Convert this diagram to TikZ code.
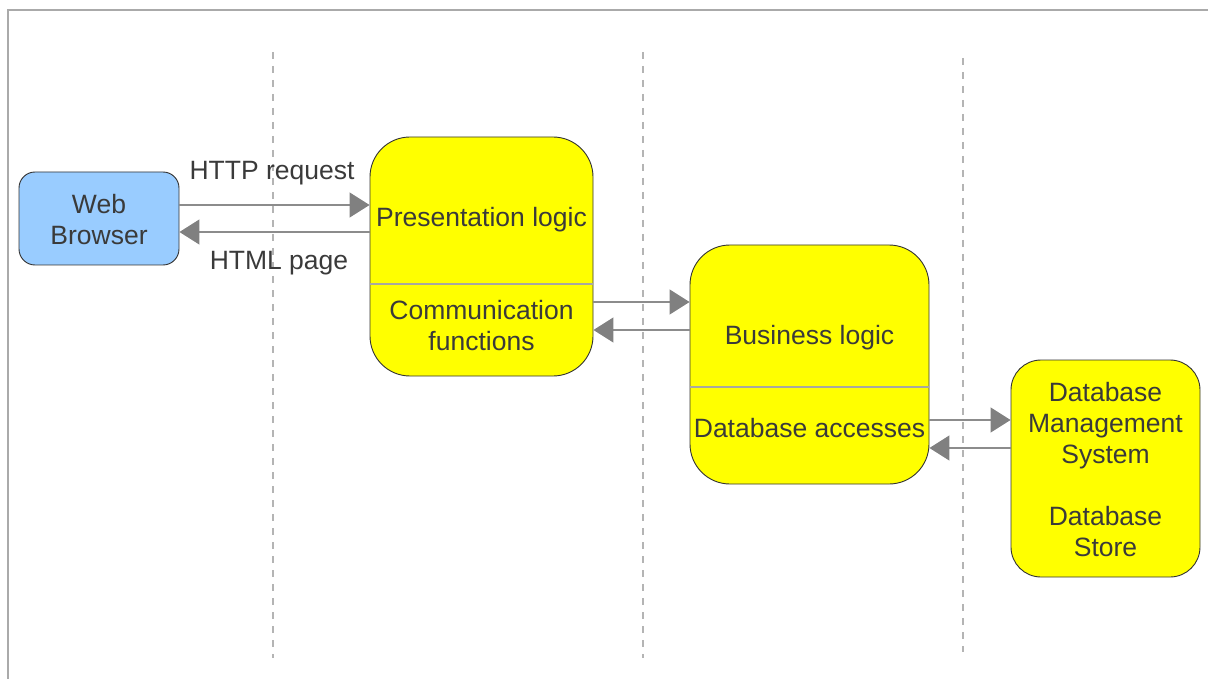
\documentclass[tikz,border=0pt]{standalone}
\usepackage{fontspec}
\setmainfont{Liberation Sans}
\usetikzlibrary{arrows.meta}
\definecolor{frameg}{HTML}{AAAAAA}
\definecolor{dashg}{HTML}{B4B4B4}
\definecolor{lineg}{HTML}{8C8C8C}
\definecolor{arrg}{HTML}{808080}
\definecolor{txt}{HTML}{3A3A3A}
\definecolor{bluebox}{HTML}{99CCFF}
\definecolor{yel}{HTML}{FFFF00}
\definecolor{divg}{HTML}{A8A8A0}
\tikzset{
  box/.style={draw=black!80, line width=0.9pt, rectangle, inner sep=0pt},
  lbl/.style={text=txt, font=\fontsize{26.5}{31}\selectfont, align=center, inner sep=0pt},
  arr/.style={draw=lineg, line width=1.3pt, -{Triangle[length=20pt,width=25pt,fill=arrg,color=arrg]}},
  sep/.style={draw=dashg, line width=1.2pt, dash pattern=on 7pt off 7pt},
  divline/.style={draw=divg, line width=1.3pt}
}
\begin{document}
\begin{tikzpicture}[x=1pt,y=-1pt]
\useasboundingbox (0,0) rectangle (1208,679);
% frame
\draw[frameg, line width=1.5pt] (1208,10) -- (8,10) -- (8,679);
% separators
\draw[sep] (273,52) -- (273,658);
\draw[sep] (643,52) -- (643,658);
\draw[sep] (963,58) -- (963,652);
% boxes
\node[box, fill=bluebox, rounded corners=16pt, minimum width=160pt, minimum height=93pt] (wb) at (99,218.5) {};
\node[lbl] (wbt) at (99,219.5) {Web\\Browser};
\node[box, fill=yel, rounded corners=40pt, minimum width=223pt, minimum height=239pt] (pres) at (481.5,256.5) {};
\node[box, fill=yel, rounded corners=40pt, minimum width=239pt, minimum height=239pt] (bus) at (809.5,364.5) {};
\node[box, fill=yel, rounded corners=30pt, minimum width=189pt, minimum height=217pt] (dbms) at (1105.5,468.5) {};
% dividers
\draw[divline] (pres.west |- 0,284) -- (pres.east |- 0,284);
\draw[divline] (bus.west |- 0,387) -- (bus.east |- 0,387);
% texts
\node[lbl] (prest) at (481.5,219.5) {Presentation logic};
\node[lbl] (comt) at (481.5,325.5) {Communication\\functions};
\node[lbl] (bust) at (809.5,337.5) {Business logic};
\node[lbl] (dbat) at (809.5,428.5) {Database accesses};
\node[lbl] (dbmst) at (1105.5,425.5) {Database\\Management\\System};
\node[lbl] (dbst) at (1105.5,532) {Database\\Store};
% arrows
\draw[arr] (wb.east |- 0,205) -- (pres.west |- 0,205);
\draw[arr] (pres.west |- 0,232) -- (wb.east |- 0,232);
\draw[arr] (pres.east |- 0,302) -- (bus.west |- 0,302);
\draw[arr] (bus.west |- 0,330) -- (pres.east |- 0,330);
\draw[arr] (bus.east |- 0,420) -- (dbms.west |- 0,420);
\draw[arr] (dbms.west |- 0,448) -- (bus.east |- 0,448);
% arrow labels
\node[lbl] (req) at (272,173) {HTTP request};
\node[lbl] (page) at (279,263) {HTML page};
\end{tikzpicture}
\end{document}
